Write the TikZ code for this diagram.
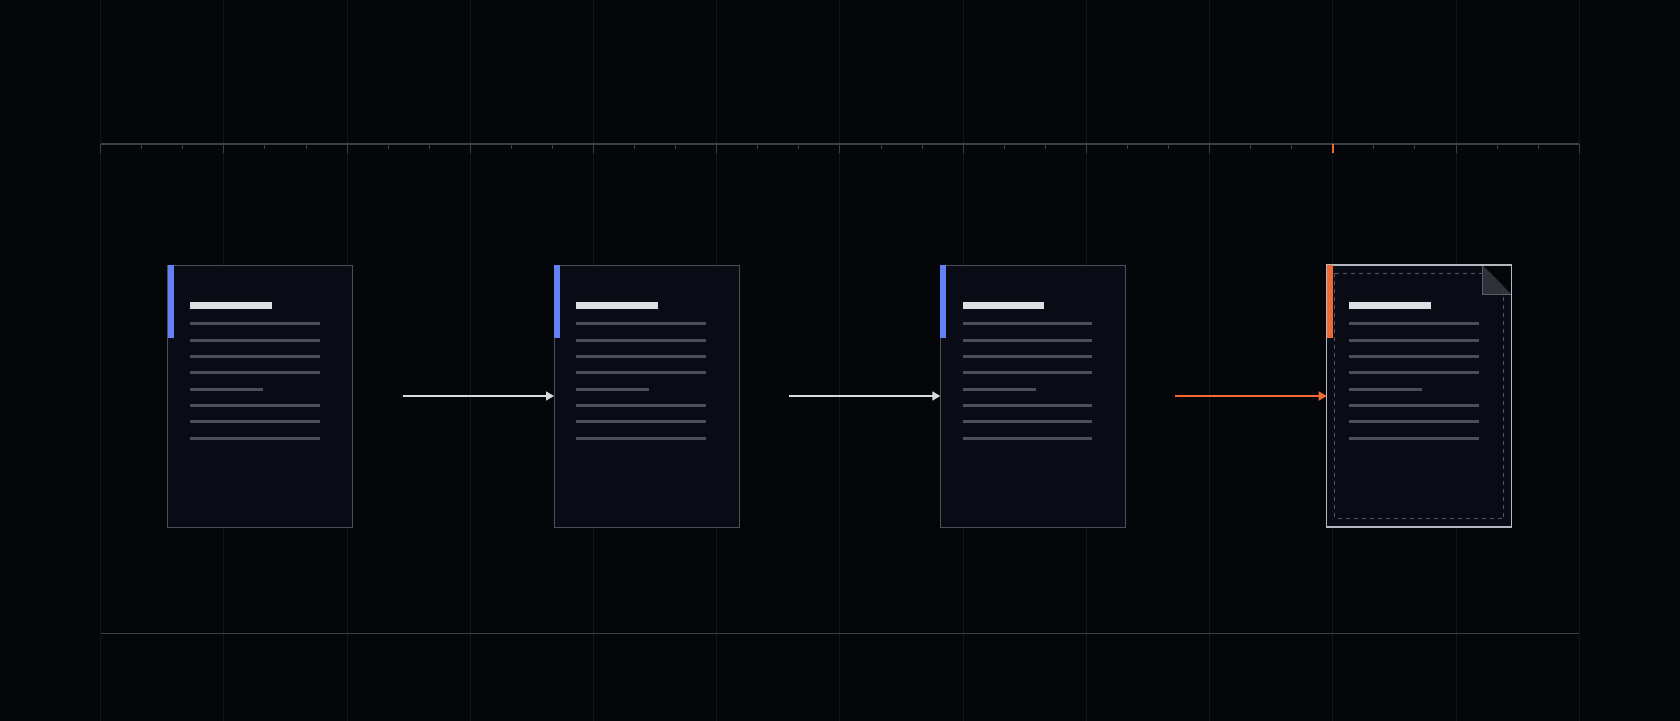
\documentclass[tikz,border=0pt]{standalone}
\usetikzlibrary{arrows.meta}
\definecolor{bgc}{HTML}{05060A}
\definecolor{gridc}{HTML}{14161C}
\definecolor{axisc}{HTML}{3C3F46}
\definecolor{docfill}{HTML}{090C14}
\definecolor{docborder}{HTML}{4B4F58}
\definecolor{docborderhl}{HTML}{B4B8BF}
\definecolor{bluec}{HTML}{6380F5}
\definecolor{orangec}{HTML}{F06A35}
\definecolor{titlec}{HTML}{DCDEE2}
\definecolor{linec}{HTML}{4C4F57}
\definecolor{arrowc}{HTML}{D8DADE}
\definecolor{dashc}{HTML}{555962}
\definecolor{foldc}{HTML}{34363D}
\definecolor{foldedge}{HTML}{5C5F68}
\tikzset{
  gridline/.style={draw=gridc, line width=1pt},
  axisline/.style={draw=axisc, line width=1.4pt},
  tickmark/.style={draw=axisc, line width=1pt},
  docbox/.style={rectangle, draw=docborder, fill=docfill, line width=1pt,
    minimum width=185pt, minimum height=262pt, inner sep=0pt, outer sep=0pt, anchor=north west},
  docboxhl/.style={docbox, draw=docborderhl, line width=1.2pt},
  textline/.style={draw=linec, line width=3pt},
  flowarrow/.style={draw=arrowc, line width=1.5pt, -{Triangle[length=8pt,width=9pt]}},
  flowarrowhl/.style={flowarrow, draw=orangec, -{Triangle[length=8pt,width=9pt,fill=orangec]}},
}
\newcommand\DocContent[2]{%
  \begin{scope}[shift={(#1.north west)}]
    \fill[#2] (0,0) rectangle (6,73);
    \fill[titlec] (22.3,36.7) rectangle (104,43.7);
    \foreach \k in {0,1,2,3,5,6,7} \draw[textline] (22.3,{58.7+16.35*\k}) -- (152,{58.7+16.35*\k});
    \draw[textline] (22.3,{58.7+16.35*4}) -- (95.3,{58.7+16.35*4});
  \end{scope}}
\begin{document}
\begin{tikzpicture}[x=1pt,y=-1pt]
\useasboundingbox (0,0) rectangle (1680,720);
\fill[bgc] (-10,-10) rectangle (1690,730);
% grid
\foreach \i in {0,...,12} \draw[gridline] ({100.7+123.21*\i},-10) -- ({100.7+123.21*\i},730);
% axis and ticks
\draw[axisline] (100.7,143.8) -- (1579.2,143.8);
\foreach \i in {0,...,9,11,12} \draw[tickmark] ({100.7+123.21*\i},143.8) -- ({100.7+123.21*\i},153);
\foreach \i in {0,...,11} \foreach \j in {1,2} \draw[tickmark] ({100.7+123.21*\i+41.07*\j},143.8) -- ({100.7+123.21*\i+41.07*\j},149);
\draw[draw=orangec, line width=1.6pt] ({100.7+123.21*10},143.8) -- ({100.7+123.21*10},153);
% bottom line
\draw[axisline] (100.7,633.3) -- (1579.2,633.3);
% documents
\node[docbox] (d1) at (167.7,265) {};
\node[docbox] (d2) at (554,265) {};
\node[docbox] (d3) at (940.3,265) {};
\node[docboxhl] (d4) at (1326.7,265) {};
\DocContent{d1}{bluec}
\DocContent{d2}{bluec}
\DocContent{d3}{bluec}
\begin{scope}[shift={(d4.north west)}]
  \draw[dashc, line width=1pt, dash pattern=on 4pt off 4pt] (8,8.3) rectangle (177,253.5);
  \fill[bgc] (155.6,0) -- (185,0) -- (185,29.5) -- cycle;
  \fill[foldc, opacity=0.9] (155.6,0) -- (185,29.5) -- (155.6,29.5) -- cycle;
  \draw[foldedge, line width=1pt] (155.6,0) -- (155.6,29.5) -- (185,29.5);
  \draw[docborderhl, line width=1.2pt] (155.6,0) -- (185,0) -- (185,29.5);
\end{scope}
\DocContent{d4}{orangec}
% arrows
\coordinate (a1) at ([xshift=50pt]d1.east);
\coordinate (a2) at ([xshift=50pt]d2.east);
\coordinate (a3) at ([xshift=50pt]d3.east);
\draw[flowarrow] (a1) -- (d2.west);
\draw[flowarrow] (a2) -- (d3.west);
\draw[flowarrowhl] (a3) -- (d4.west);
\end{tikzpicture}
\end{document}
